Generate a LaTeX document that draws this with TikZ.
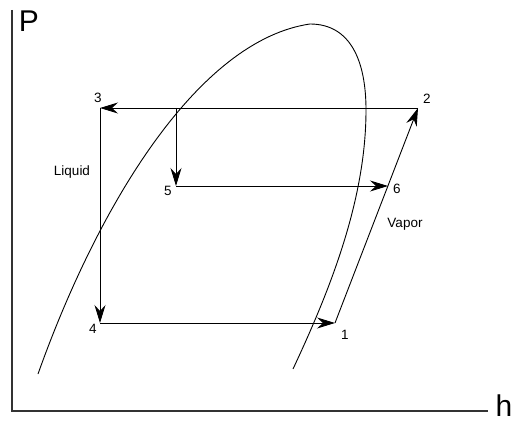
\documentclass[tikz,border=0pt]{standalone}
\usepackage{fontspec}
\setmainfont{Liberation Sans}
\usetikzlibrary{arrows.meta}

\begin{document}
\begin{tikzpicture}[
    x=1pt, y=-1pt,
% Line and text styles
    axis/.style={draw=black!80, line width=1.1pt},
    dome/.style={draw=black, line width=0.9pt},
    flow/.style={draw=black, line width=0.9pt, -{Stealth[length=18pt, width=11pt, inset=6pt]}},
    axislabel/.style={inner sep=0pt, font=\fontsize{30}{32}\selectfont},
    statelabel/.style={inner sep=0pt, font=\fontsize{13.5}{15}\selectfont}
]
\useasboundingbox (0,0) rectangle (512,425);

% 1. Axes
\coordinate (origin) at (12,411);
\coordinate (ptop) at (12,10);
\coordinate (hend) at (488,411);
\draw[axis] (ptop) -- (origin) -- (hend);
\node[axislabel] (plabel) at (29,21) {P};
\node[axislabel] (hlabel) at (504,406) {h};

% 2. Saturation dome
\coordinate (domeleft) at (38,374);
\coordinate (dometop) at (310,24);
\coordinate (domeside) at (366,110);
\coordinate (domeright) at (293,369);
\draw[dome] (domeleft) .. controls (100,200) and (200,40) .. (dometop)
    .. controls (350,24) and (366,60) .. (domeside)
    .. controls (366,200) and (330,290) .. (domeright);

% 3. Cycle states
\coordinate (s1) at (335,323);
\coordinate (s2) at (418,108);
\coordinate (s3) at (100,108);
\coordinate (s4) at (100,323);
\coordinate (s5) at (176,186);
\coordinate (s6) at (388,186);
\coordinate (s5top) at (176,108);

\node[statelabel] (n1) at (345,335) {1};
\node[statelabel] (n2) at (427,99) {2};
\node[statelabel] (n3) at (98,98) {3};
\node[statelabel] (n4) at (93,329) {4};
\node[statelabel] (n5) at (168,191) {5};
\node[statelabel] (n6) at (397,189) {6};

\node[statelabel] (liquid) at (72,172) {Liquid};
\node[statelabel] (vapor) at (405,224) {Vapor};

% 4. Cycle arrows
\draw[flow] (s2) -- (s3);
\draw[flow] (s5top) -- (s5);
\draw[flow] (s5) -- (s6);
\draw[flow] (s3) -- (s4);
\draw[flow] (s4) -- (s1);
\draw[flow] (s1) -- (s2);

\end{tikzpicture}
\end{document}
